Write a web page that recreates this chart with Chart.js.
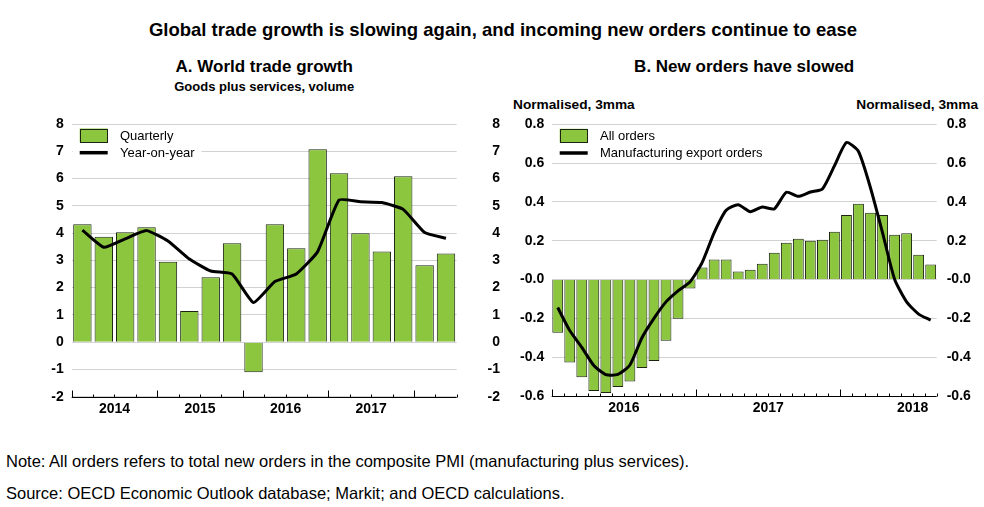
<!DOCTYPE html>
<html>
<head>
<meta charset="utf-8">
<script src="https://cdn.jsdelivr.net/npm/chart.js@4.4.1/dist/chart.umd.min.js"></script>
<style>
  html, body { margin: 0; padding: 0; background: #fff; }
  body { width: 984px; height: 507px; position: relative; overflow: hidden;
         font-family: "Liberation Sans", Arial, sans-serif; color: #000; }
  .txt { position: absolute; white-space: nowrap; }
  canvas { position: absolute; }
</style>
</head>
<body>
<div class="txt" style="left:11px;width:984px;top:19px;line-height:22px;text-align:center;font-weight:bold;font-size:18.5px;">Global trade growth is slowing again, and incoming new orders continue to ease</div>

<div class="txt" style="left:71.7px;width:385px;top:57px;line-height:20px;text-align:center;font-weight:bold;font-size:17px;">A. World trade growth</div>
<div class="txt" style="left:71.7px;width:385px;top:78.5px;line-height:16px;text-align:center;font-weight:bold;font-size:13px;">Goods plus services, volume</div>

<div class="txt" style="left:551.7px;width:385px;top:57px;line-height:20px;text-align:center;font-weight:bold;font-size:17px;">B. New orders have slowed</div>
<div class="txt" style="left:513px;top:97px;line-height:16px;font-weight:bold;font-size:13.7px;">Normalised, 3mma</div>
<div class="txt" style="right:6px;top:97px;line-height:16px;font-weight:bold;font-size:13.7px;">Normalised, 3mma</div>

<canvas id="chartA" width="500" height="320" style="left:0;top:100px;"></canvas>
<canvas id="chartB" width="492" height="320" style="left:492px;top:100px;"></canvas>

<div class="txt" style="left:6px;top:452px;line-height:18px;font-size:16.5px;">Note: All orders refers to total new orders in the composite PMI (manufacturing plus services).</div>
<div class="txt" style="left:6px;top:484px;line-height:18px;font-size:16.5px;">Source: OECD Economic Outlook database; Markit; and OECD calculations.</div>

<script>
/* Panel A - world trade growth, quarterly */
const quarters = ['2014Q1', '2014Q2', '2014Q3', '2014Q4', '2015Q1', '2015Q2', '2015Q3', '2015Q4',
                  '2016Q1', '2016Q2', '2016Q3', '2016Q4', '2017Q1', '2017Q2', '2017Q3', '2017Q4',
                  '2018Q1', '2018Q2'];
const quarterlyGrowth = [4.32, 3.87, 4.03, 4.21, 2.95, 1.14, 2.38, 3.63,
                         -1.10, 4.32, 3.44, 7.07, 6.19, 3.99, 3.32, 6.08,
                         2.82, 3.25];
const yoyGrowth = [4.11, 3.48, 3.79, 4.09, 3.71, 3.05, 2.61, 2.50,
                   1.45, 2.22, 2.50, 3.32, 5.21, 5.15, 5.12, 4.87,
                   4.02, 3.81];

/* Panel B - new orders, monthly */
const months = ['2016-01', '2016-02', '2016-03', '2016-04', '2016-05', '2016-06',
                '2016-07', '2016-08', '2016-09', '2016-10', '2016-11', '2016-12',
                '2017-01', '2017-02', '2017-03', '2017-04', '2017-05', '2017-06',
                '2017-07', '2017-08', '2017-09', '2017-10', '2017-11', '2017-12',
                '2018-01', '2018-02', '2018-03', '2018-04', '2018-05', '2018-06',
                '2018-07', '2018-08'];
const allOrders = [-0.274, -0.427, -0.503, -0.574, -0.585, -0.554, -0.525, -0.456,
                   -0.420, -0.315, -0.202, -0.046, 0.062, 0.103, 0.103, 0.041,
                   0.051, 0.082, 0.138, 0.190, 0.210, 0.200, 0.205, 0.246,
                   0.333, 0.390, 0.344, 0.333, 0.231, 0.239, 0.128, 0.077];
const exportOrders = [-0.144, -0.263, -0.349, -0.443, -0.490, -0.489, -0.440, -0.300,
                      -0.200, -0.115, -0.058, -0.012, 0.087, 0.241, 0.357, 0.386,
                      0.350, 0.374, 0.364, 0.450, 0.429, 0.451, 0.467, 0.586,
                      0.706, 0.660, 0.472, 0.241, 0.002, -0.115, -0.178, -0.209];

const GREEN = '#8cc63f';
const BAR_EDGE = '#1b2410';
const GRID = '#d2d2d2';
const FONT = '"Liberation Sans", Arial, sans-serif';

Chart.defaults.font.family = FONT;
Chart.defaults.color = '#000';

// year labels + upward tick marks under the plot
const yearAxis = {
  id: 'yearAxis',
  afterDatasetsDraw(chart, args, opts) {
    const xs = chart.scales.x;
    const area = chart.chartArea;
    const labels = chart.data.labels;
    const ctx = chart.ctx;
    const yb = Math.round(area.bottom) + 0.5;

    ctx.save();
    ctx.strokeStyle = '#000';
    ctx.lineWidth = 1;
    ctx.beginPath();
    ctx.moveTo(area.left, yb);
    ctx.lineTo(area.right, yb);
    for (let i = 0; i <= labels.length; i++) {
      const px = Math.round(xs.getPixelForValue(i - 0.5)) + 0.5;
      const newYear = i === 0 || (i < labels.length && labels[i].slice(0, 4) !== labels[i - 1].slice(0, 4));
      ctx.moveTo(px, yb);
      ctx.lineTo(px, yb - (newYear ? 7 : 3));
    }
    ctx.stroke();

    ctx.font = 'bold 14px ' + FONT;
    ctx.fillStyle = '#000';
    ctx.textAlign = 'center';
    ctx.textBaseline = 'middle';
    for (let i = 0; i < labels.length; i++) {
      if (i > 0 && labels[i].slice(0, 4) === labels[i - 1].slice(0, 4)) continue;
      const mid = i + opts.perYear / 2 - 0.5;
      if (mid >= labels.length - 1) continue;
      ctx.fillText(labels[i].slice(0, 4), xs.getPixelForValue(mid), area.bottom + 12);
    }
    ctx.restore();
  }
};

// legend drawn inside the plot, top left
const insideLegend = {
  id: 'insideLegend',
  afterDraw(chart) {
    const a = chart.chartArea;
    const ctx = chart.ctx;
    const sets = chart.data.datasets;
    ctx.save();
    ctx.font = '13px ' + FONT;
    let wMax = 0;
    sets.forEach(ds => { wMax = Math.max(wMax, ctx.measureText(ds.label).width); });
    ctx.fillStyle = '#fff';
    ctx.fillRect(a.left + 1, a.top + 3, 48 + wMax + 6, 35);

    sets.forEach((ds, i) => {
      const yc = a.top + 11.5 + i * 17.2;
      if (ds.type === 'line') {
        ctx.strokeStyle = ds.borderColor;
        ctx.lineWidth = 3.5;
        ctx.beginPath();
        ctx.moveTo(a.left + 8, yc);
        ctx.lineTo(a.left + 36, yc);
        ctx.stroke();
      } else {
        ctx.fillStyle = ds.backgroundColor;
        ctx.fillRect(a.left + 8, yc - 7, 28, 14);
        ctx.strokeStyle = ds.borderColor;
        ctx.lineWidth = 1;
        ctx.strokeRect(Math.round(a.left + 8) + 0.5, Math.round(yc - 7) + 0.5, 27, 13);
      }
      ctx.fillStyle = '#000';
      ctx.textAlign = 'left';
      ctx.textBaseline = 'middle';
      ctx.fillText(ds.label, a.left + 48.3, yc + 0.5);
    });
    ctx.restore();
  }
};

function makeChart(id, p) {
  const tickFont = { size: 14, weight: 'bold' };
  return new Chart(document.getElementById(id), {
    type: 'bar',
    data: {
      labels: p.labels,
      datasets: [
        {
          type: 'bar',
          label: p.barLabel,
          data: p.bars,
          backgroundColor: GREEN,
          borderColor: BAR_EDGE,
          borderWidth: 1,
          barPercentage: p.barPct,
          categoryPercentage: 1,
          order: 2
        },
        {
          type: 'line',
          label: p.lineLabel,
          data: p.line,
          borderColor: '#000',
          borderWidth: 3,
          pointRadius: 0,
          tension: p.tension,
          borderJoinStyle: 'round',
          order: 1
        }
      ]
    },
    options: {
      responsive: false,
      animation: false,
      layout: { padding: { top: p.padTop, bottom: p.padBottom, left: 0, right: 0 } },
      plugins: {
        legend: { display: false },
        tooltip: { enabled: false },
        yearAxis: { perYear: p.perYear }
      },
      scales: {
        x: { display: false, offset: true },
        y: {
          position: 'left',
          min: p.min, max: p.max,
          ticks: { stepSize: p.step, padding: p.leftPad, font: tickFont, callback: p.fmt },
          grid: { color: GRID, drawTicks: false },
          border: { display: false },
          afterFit: s => { s.width = p.leftW; }
        },
        y2: {
          position: 'right',
          min: p.min, max: p.max,
          ticks: { stepSize: p.step, padding: p.rightPad, font: tickFont, callback: p.fmt,
                   crossAlign: p.rightAlign },
          grid: { drawOnChartArea: false, drawTicks: false },
          border: { display: false },
          afterFit: s => { s.width = p.rightW; }
        }
      }
    },
    plugins: [yearAxis, insideLegend]
  });
}

makeChart('chartA', {
  labels: quarters,
  barLabel: 'Quarterly', bars: quarterlyGrowth,
  lineLabel: 'Year-on-year', line: yoyGrowth,
  barPct: 0.86, tension: 0.15, perYear: 4,
  min: -2, max: 8, step: 1,
  fmt: v => String(v),
  leftW: 71.7, rightW: 43.3, leftPad: 8, rightPad: 9, rightAlign: 'far',
  padTop: 24, padBottom: 23.3
});

makeChart('chartB', {
  labels: months,
  barLabel: 'All orders', bars: allOrders,
  lineLabel: 'Manufacturing export orders', line: exportOrders,
  barPct: 0.9, tension: 0.2, perYear: 12,
  min: -0.6, max: 0.8, step: 0.2,
  fmt: v => Math.abs(v) < 1e-9 ? '-0.0' : v.toFixed(1),
  leftW: 59.7, rightW: 47.3, leftPad: 7.5, rightPad: 10, rightAlign: 'near',
  padTop: 24.3, padBottom: 24
});
</script>
</body>
</html>
